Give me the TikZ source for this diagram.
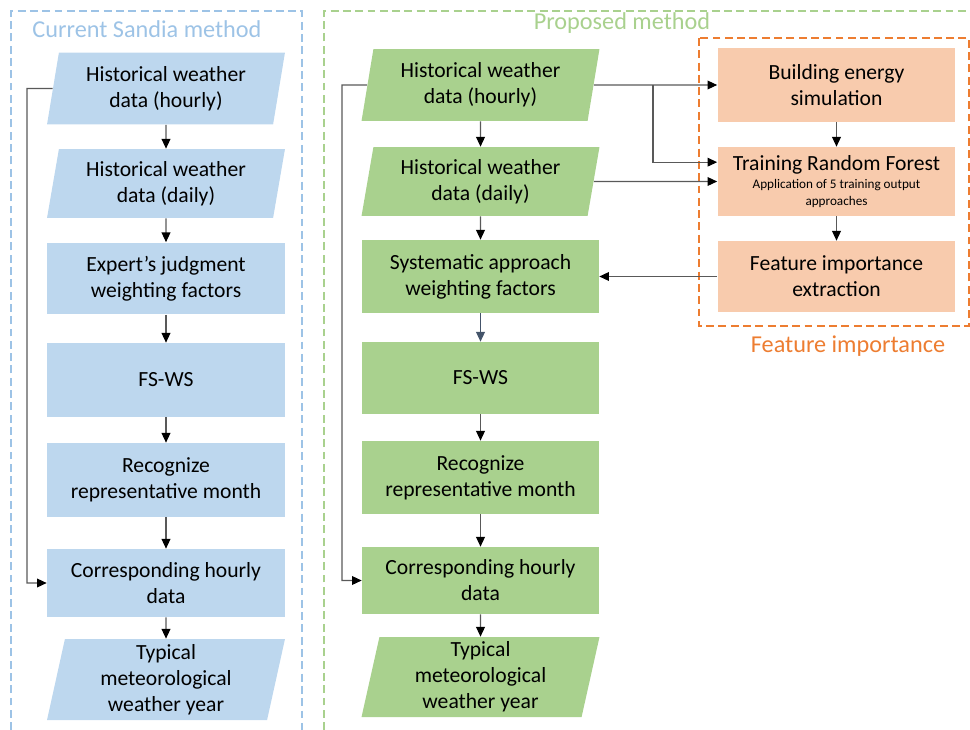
\documentclass[tikz,border=0pt]{standalone}
\usepackage{fontspec}
\setmainfont{Carlito}
\usetikzlibrary{shapes.geometric,arrows.meta}
\definecolor{sandfill}{HTML}{BDD7EE}
\definecolor{sandline}{HTML}{9DC3E6}
\definecolor{propfill}{HTML}{A9D18E}
\definecolor{propline}{HTML}{A9D18E}
\definecolor{featfill}{HTML}{F8CBAD}
\definecolor{featline}{HTML}{ED7D31}
\definecolor{slate}{HTML}{44546A}
\newcommand{\smalltxt}[1]{{\fontsize{7.5}{9}\selectfont #1}}
\begin{document}
\begin{tikzpicture}[x=0.02cm,y=-0.02cm,
	every node/.style={font=\fontsize{12.3}{14.8}\selectfont,align=center},
	titletxt/.style={font=\fontsize{13.8}{16}\selectfont},
	blk/.style={rectangle,minimum width=4.76cm,minimum height=1.44cm,inner sep=2pt},
	para/.style={trapezium,trapezium left angle=77,trapezium right angle=103,
		trapezium stretches body,minimum width=4.76cm,minimum height=1.44cm,inner sep=2pt},
	arr/.style={draw=black!65,line width=0.6pt,-{Triangle[length=5.5pt,width=5pt,color=black]}},
	frame/.style={dashed,line width=0.6pt,dash pattern=on 4.5pt off 2.5pt}]
	\useasboundingbox (0,0) rectangle (970,730);
	% frames
	\draw[frame,sandline] (11,730) -- (11,11) -- (302,11) -- (302,730);
	\draw[frame,propline] (324,730) -- (324,11) -- (970,11);
	\draw[frame,featline] (699,38) rectangle (969,326);
	\node[titletxt,text=sandline] (ttlS) at (147,29) {Current Sandia method};
	\node[titletxt,text=propline] (ttlP) at (622,23) {Proposed method};
	\node[titletxt,text=featline] (ttlF) at (848,346) {Feature importance};
	% current Sandia method
	\node[para,fill=sandfill] (lH) at (166,88.5) {Historical weather\\data (hourly)};
	\node[para,fill=sandfill,minimum height=1.38cm] (lD) at (166,183.5) {Historical weather\\data (daily)};
	\node[blk,fill=sandfill] (lE) at (166,278.5) {Expert’s judgment\\weighting factors};
	\node[blk,fill=sandfill,minimum height=1.48cm] (lF) at (166,380) {FS-WS};
	\node[blk,fill=sandfill,minimum height=1.48cm] (lR) at (166,480) {Recognize\\representative month};
	\node[blk,fill=sandfill,minimum height=1.36cm] (lC) at (166,583) {Corresponding hourly\\data};
	\node[para,fill=sandfill,minimum height=1.62cm] (lT) at (166,679.5) {Typical\\meteorological\\weather year};
	% proposed method
	\node[para,fill=propfill] (mH) at (480.5,85) {Historical weather\\data (hourly)};
	\node[para,fill=propfill,minimum height=1.38cm] (mD) at (480.5,181.5) {Historical weather\\data (daily)};
	\node[blk,fill=propfill,minimum width=4.74cm,minimum height=1.46cm] (mS) at (480.5,276.5) {Systematic approach\\weighting factors};
	\node[blk,fill=propfill,minimum width=4.74cm] (mF) at (480.5,378) {FS-WS};
	\node[blk,fill=propfill,minimum width=4.74cm,minimum height=1.46cm] (mR) at (480.5,477.5) {Recognize\\representative month};
	\node[blk,fill=propfill,minimum width=4.74cm,minimum height=1.34cm] (mC) at (480.5,580.5) {Corresponding hourly\\data};
	\node[para,fill=propfill,minimum height=1.6cm] (mT) at (480.5,677) {Typical\\meteorological\\weather year};
	% feature importance
	\node[blk,fill=featfill,minimum height=1.48cm] (bES) at (836.5,85) {Building energy\\simulation};
	\node[blk,fill=featfill,minimum height=1.38cm] (rf) at (836.5,181.5)
		{Training Random Forest\\[-4.4pt]\smalltxt{Application of 5 training output}\\[-5.4pt]\smalltxt{approaches}};
	\node[blk,fill=featfill,minimum height=1.42cm] (fe) at (836.5,276.5) {Feature importance\\extraction};
	% arrows
	\draw[arr] (lH) -- (lD);
	\draw[arr] (lD) -- (lE);
	\draw[arr] (lE) -- (lF);
	\draw[arr] (lF) -- (lR);
	\draw[arr] (lR) -- (lC);
	\draw[arr] (lC) -- (lT);
	\coordinate (lback) at (27,88.5);
	\draw[arr] (lH.west) -- (lback) |- (lC.west);
	\draw[arr] (mH) -- (mD);
	\draw[arr] (mD) -- (mS);
	\draw[arr,draw=slate,-{Triangle[length=5.5pt,width=5pt,color=slate]}] (mS) -- (mF);
	\draw[arr] (mF) -- (mR);
	\draw[arr] (mR) -- (mC);
	\draw[arr] (mC) -- (mT);
	\coordinate (mback) at (342,85);
	\draw[arr] (mH.west) -- (mback) |- (mC.west);
	\draw[arr] (mH.east) -- (bES.west);
	\coordinate (split) at (653,85);
	\draw[arr] (split) |- ([yshift=11pt]rf.west);
	\draw[arr] (mD.east) -- (rf.west);
	\draw[arr] (bES) -- (rf);
	\draw[arr] (rf) -- (fe);
	\draw[arr] (fe) -- (mS);
\end{tikzpicture}
\end{document}
